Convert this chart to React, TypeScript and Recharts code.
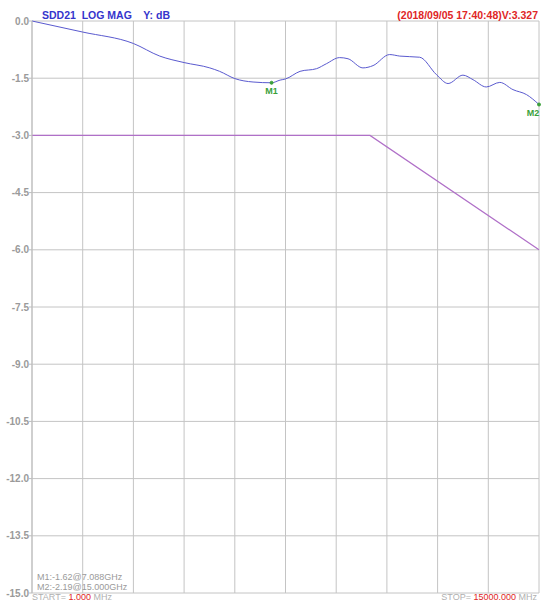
import React from 'react'
import { LineChart, Line, XAxis, YAxis, CartesianGrid, ReferenceDot } from 'recharts'

// frequency in GHz, SDD21 in dB
const freqs = [0, 1.5, 3.0, 3.78, 4.5, 5.26, 5.55, 6.0, 6.54, 7.088, 7.34, 7.5, 7.93, 8.42, 8.71, 9.1, 9.35, 9.79, 10.09, 10.58, 10.88, 11.47, 11.97, 12.31, 12.75, 13.05, 13.44, 13.84, 14.23, 14.63, 15.0]
const sdd21 = [0, -0.29, -0.59, -0.92, -1.09, -1.23, -1.32, -1.51, -1.6, -1.62, -1.55, -1.52, -1.32, -1.25, -1.12, -0.96, -0.99, -1.23, -1.17, -0.88, -0.92, -0.95, -1.41, -1.64, -1.42, -1.54, -1.73, -1.61, -1.8, -1.93, -2.19]

const limitFreqs = [0, 10.0, 15.0]
const limitDb = [-3.0, -3.0, -6.0]

const xTicks = [0, 1.5, 3, 4.5, 6, 7.5, 9, 10.5, 12, 13.5, 15]
const yTicks = [0, -1.5, -3, -4.5, -6, -7.5, -9, -10.5, -12, -13.5, -15]

const markers = [
  { name: 'M1', x: 7.088, y: -1.62, dx: 0 },
  { name: 'M2', x: 15.0, y: -2.19, dx: -6 },
]

const traceData = freqs.map((f, i) => ({ f, v: sdd21[i] }))
const limitData = limitFreqs.map((f, i) => ({ f, v: limitDb[i] }))

const font = '"Liberation Sans", Arial, sans-serif'
const gray = '#9a9a9a'

export default function App() {
  return (
    <div style={{ position: 'absolute', left: 0, top: 0, width: 541, height: 601, background: '#fff', fontFamily: font }}>
      <LineChart width={541} height={601} margin={{ top: 21, right: 2, bottom: 8, left: 0 }}>
        <CartesianGrid stroke="#c4c4c4" strokeWidth={1} />
        <XAxis dataKey="f" type="number" domain={[0, 15]} ticks={xTicks} hide allowDuplicatedCategory={false} />
        <YAxis
          type="number"
          domain={[-15, 0]}
          ticks={yTicks}
          width={32}
          tickSize={3}
          tickMargin={0}
          stroke="#bdbdbd"
          tickFormatter={(v: number) => v.toFixed(1)}
          tick={{ fill: gray, fontSize: 10, fontWeight: 'bold', fontFamily: font }}
        />
        <Line data={limitData} dataKey="v" type="linear" stroke="#b070c8" strokeWidth={1.2} dot={false} isAnimationActive={false} />
        <Line data={traceData} dataKey="v" type="monotone" stroke="#5a5acf" strokeWidth={1} dot={false} isAnimationActive={false} />
        {markers.map((m) => (
          <ReferenceDot
            key={m.name}
            x={m.x}
            y={m.y}
            r={1.5}
            fill="#3aa03a"
            stroke="#3aa03a"
            ifOverflow="visible"
            label={(props: any) => {
              const vb = props.viewBox || {}
              const cx = (vb.x ?? 0) + (vb.width ?? 0) / 2 + m.dx
              const cy = (vb.y ?? 0) + (vb.height ?? 0) / 2
              return (
                <text x={cx} y={cy + 11} textAnchor="middle" fill="#3aa03a" fontSize={9} fontWeight="bold" fontFamily={font}>
                  {m.name}
                </text>
              )
            }}
          />
        ))}
        <text x={42} y={19} fill="#3535cc" fontSize={10.5} fontWeight="bold" fontFamily={font} style={{ whiteSpace: 'pre' }}>
          SDD21  LOG MAG    Y: dB
        </text>
        <text x={538} y={19} textAnchor="end" fill="#e02626" fontSize={10.5} fontWeight="bold" fontFamily={font}>
          (2018/09/05 17:40:48)V:3.327
        </text>
        <text x={37} y={580} fill={gray} fontSize={9} fontFamily={font}>M1:-1.62@7.088GHz</text>
        <text x={37} y={590} fill={gray} fontSize={9} fontFamily={font}>M2:-2.19@15.000GHz</text>
        <text x={32} y={600} fill="#b0b0b0" fontSize={9} fontFamily={font}>
          START= <tspan fill="#e02626">1.000</tspan> MHz
        </text>
        <text x={537} y={600} textAnchor="end" fill="#b0b0b0" fontSize={9} fontFamily={font}>
          STOP= <tspan fill="#e02626">15000.000</tspan> MHz
        </text>
      </LineChart>
    </div>
  )
}
